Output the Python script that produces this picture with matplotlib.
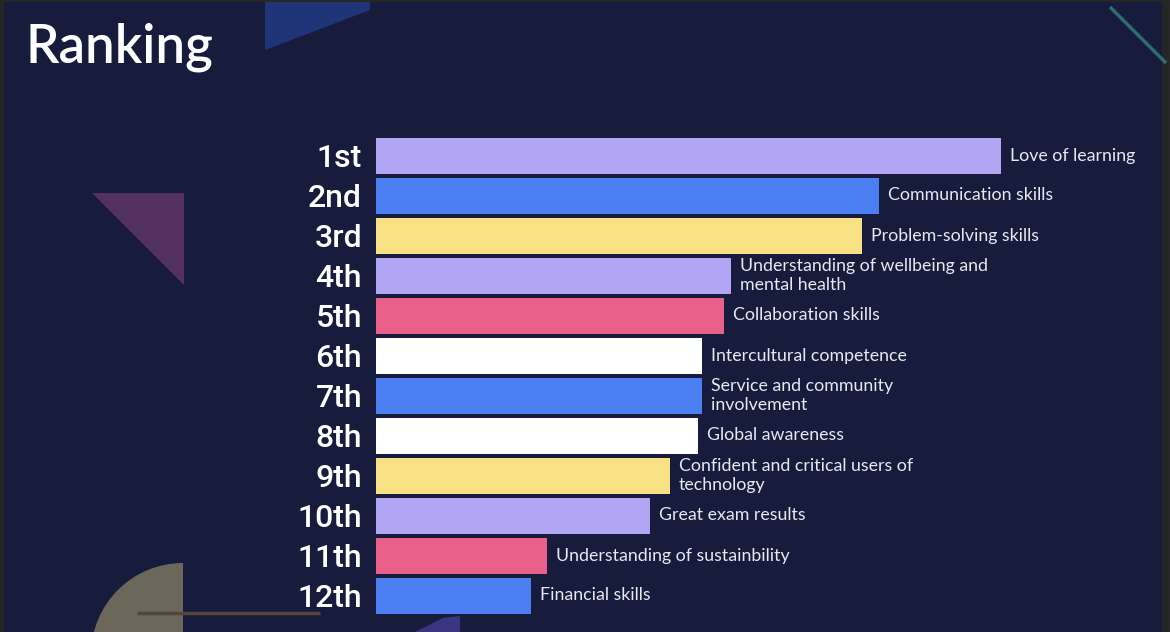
import matplotlib
matplotlib.use("Agg")
import matplotlib.pyplot as plt
from matplotlib.patches import Polygon, Wedge, Rectangle

# ranking data (bar length in arbitrary score units)
ranks = ["1st", "2nd", "3rd", "4th", "5th", "6th", "7th", "8th", "9th", "10th", "11th", "12th"]
skills = [
    "Love of learning",
    "Communication skills",
    "Problem-solving skills",
    "Understanding of wellbeing and\nmental health",
    "Collaboration skills",
    "Intercultural competence",
    "Service and community\ninvolvement",
    "Global awareness",
    "Confident and critical users of\ntechnology",
    "Great exam results",
    "Understanding of sustainbility",
    "Financial skills",
]
scores = [625, 503, 486, 355, 348, 326, 326, 322, 294, 274, 171, 155]
bar_colors = ["#b1a5f3", "#4b7ef1", "#f9e285", "#b1a5f3", "#e9618b", "#ffffff",
              "#4b7ef1", "#ffffff", "#f9e285", "#b1a5f3", "#e9618b", "#4b7ef1"]

BG = "#171c3d"
W, H = 1170, 632

fig = plt.figure(figsize=(W / 100, H / 100), dpi=100)
fig.patch.set_facecolor(BG)

# background decorations in pixel coordinates
deco = fig.add_axes([0, 0, 1, 1], zorder=0)
deco.set_xlim(0, W)
deco.set_ylim(H, 0)
deco.axis("off")
deco.set_facecolor(BG)

deco.add_patch(Polygon([(265, 0), (370, 0), (370, 10), (265, 50)], closed=True, color="#1f3577", lw=0))
deco.plot([1110, 1166], [7, 63], color="#2f6b6a", lw=2.5, solid_capstyle="butt")
deco.add_patch(Polygon([(92, 193), (184, 193), (184, 285)], closed=True, color="#53305f", lw=0))
deco.add_patch(Wedge((183, 655), 92, 90, 270, color="#6b675b", lw=0))
deco.plot([137, 320], [613, 613], color="#54473a", lw=2.5, solid_capstyle="butt")
deco.add_patch(Polygon([(415, 632), (443, 618), (460, 616), (460, 632)], closed=True, color="#39357f", lw=0))

# dark frame edges of the screenshot
deco.add_patch(Rectangle((0, 0), 4, H, color="#262626", lw=0))
deco.add_patch(Rectangle((1162, 0), 8, H, color="#262626", lw=0))
deco.add_patch(Rectangle((0, 0), W, 1.5, color="#262626", lw=0))

deco.text(25, 62, "Ranking", color="white", fontsize=38, family="Lato",
          fontweight="semibold", va="baseline", ha="left")

# bar chart
ax = fig.add_axes([376 / W, 16.5 / H, 786 / W, 480 / H], zorder=1)
ax.set_facecolor("none")
y = list(range(len(ranks)))
ax.barh(y, scores, height=0.9, color=bar_colors, edgecolor="none")
ax.set_xlim(0, 786)
ax.set_ylim(len(ranks) - 0.5, -0.5)

ax.set_yticks(y)
ax.set_yticklabels(ranks, fontsize=23, color="white", family="Roboto", fontweight="medium")
ax.tick_params(axis="y", length=0, pad=10)
ax.set_xticks([])
for s in ax.spines.values():
    s.set_visible(False)

for i in range(len(scores)):
    ax.text(scores[i] + 9, y[i], skills[i], color="#e8e8f0", fontsize=12.8,
            family="Lato", va="center", ha="left", linespacing=1.3)

fig.savefig("out.png", dpi=100, facecolor=BG)
